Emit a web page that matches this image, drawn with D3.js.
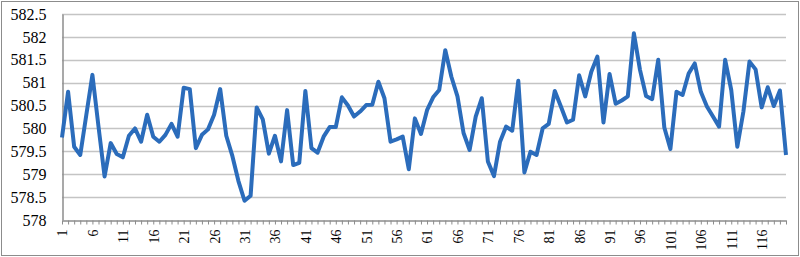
<!DOCTYPE html>
<html>
<head>
<meta charset="utf-8">
<script src="https://cdn.jsdelivr.net/npm/d3@7"></script>
<style>
  body { margin: 0; background: #fff; }
  #chart { width: 800px; height: 257px; }
  #chart text { font-family: "Liberation Serif", "Times New Roman", "DejaVu Serif", serif; fill: #000; }
</style>
</head>
<body>
<div id="chart"></div>
<script>
// Data
const values = [
  579.8, 580.8, 579.6, 579.42, 580.3, 581.17, 580.04, 578.95, 579.68, 579.44,
  579.37, 579.84, 580.0, 579.71, 580.3, 579.82, 579.71, 579.86, 580.1, 579.82,
  580.89, 580.86, 579.57, 579.86, 579.98, 580.3, 580.86, 579.84, 579.4, 578.85,
  578.42, 578.53, 580.46, 580.2, 579.45, 579.84, 579.28, 580.4, 579.2, 579.25,
  580.82, 579.57, 579.47, 579.82, 580.03, 580.03, 580.68, 580.5, 580.26, 580.37,
  580.51, 580.52, 581.02, 580.66, 579.71, 579.76, 579.82, 579.11, 580.22, 579.88,
  580.4, 580.68, 580.84, 581.71, 581.13, 580.7, 579.9, 579.53, 580.26, 580.66,
  579.28, 578.96, 579.71, 580.04, 579.95, 581.04, 579.04, 579.49, 579.42, 580.0,
  580.1, 580.82, 580.48, 580.13, 580.19, 581.16, 580.7, 581.24, 581.57, 580.13,
  581.19, 580.54, 580.61, 580.7, 582.08, 581.28, 580.71, 580.64, 581.5, 580.02,
  579.55, 580.8, 580.73, 581.2, 581.42, 580.8, 580.48, 580.26, 580.04, 581.5,
  580.84, 579.6, 580.37, 581.46, 581.29, 580.46, 580.9, 580.49, 580.83, 579.42
];
const categories = values.map((d, i) => i + 1);
const yTicks = [578, 578.5, 579, 579.5, 580, 580.5, 581, 581.5, 582, 582.5];
const xLabels = categories.filter(d => (d - 1) % 5 === 0);

const width = 800, height = 257;
const plot = { left: 62, right: 786, top: 14, bottom: 220 };

const svg = d3.select("#chart").append("svg")
  .attr("width", width)
  .attr("height", height);

// outer border
svg.append("rect")
  .attr("x", 1.5).attr("y", 1.5)
  .attr("width", width - 3).attr("height", height - 3)
  .attr("fill", "#fff")
  .attr("stroke", "#8c8c8c");

const x = d3.scalePoint().domain(categories).range([plot.left, plot.right]);
const y = d3.scaleLinear().domain([578, 582.5]).range([plot.bottom, plot.top]);

// gridlines
svg.append("g")
  .selectAll("line")
  .data(yTicks.slice(1))
  .enter().append("line")
  .attr("x1", plot.left).attr("x2", plot.right)
  .attr("y1", d => Math.round(y(d)) + 0.5)
  .attr("y2", d => Math.round(y(d)) + 0.5)
  .attr("stroke", "#c4c4c4")
  .attr("stroke-width", 1.5);

// Y axis
const yAxis = svg.append("g")
  .attr("transform", `translate(${plot.left + 0.5},0)`)
  .attr("font-family", null)
  .call(d3.axisLeft(y).tickValues(yTicks).tickSize(0).tickPadding(16).tickFormat(d3.format("")));
yAxis.attr("font-family", null).attr("font-size", 16);
yAxis.select(".domain").attr("stroke", "#8c8c8c").attr("stroke-width", 1.5);

// X axis: tick at every category, label every 5th
const xAxis = svg.append("g")
  .attr("transform", `translate(0,${plot.bottom + 0.5})`)
  .call(d3.axisBottom(x).tickSize(4).tickSizeOuter(0)
    .tickFormat(d => xLabels.includes(d) ? d : ""));
xAxis.attr("font-family", null).attr("font-size", 14);
xAxis.select(".domain").attr("stroke", "#8c8c8c").attr("stroke-width", 1.5);
xAxis.selectAll(".tick line").attr("stroke", "#8c8c8c");
xAxis.selectAll("text")
  .attr("transform", "rotate(-90)")
  .attr("text-anchor", "end")
  .attr("x", -9)
  .attr("y", 0)
  .attr("dy", "0.35em");

// line
const line = d3.line()
  .x((d, i) => x(categories[i]))
  .y(d => y(d));

svg.append("path")
  .datum(values)
  .attr("d", line)
  .attr("fill", "none")
  .attr("stroke", "#2b6cbb")
  .attr("stroke-width", 4)
  .attr("stroke-linejoin", "round");
</script>
</body>
</html>
